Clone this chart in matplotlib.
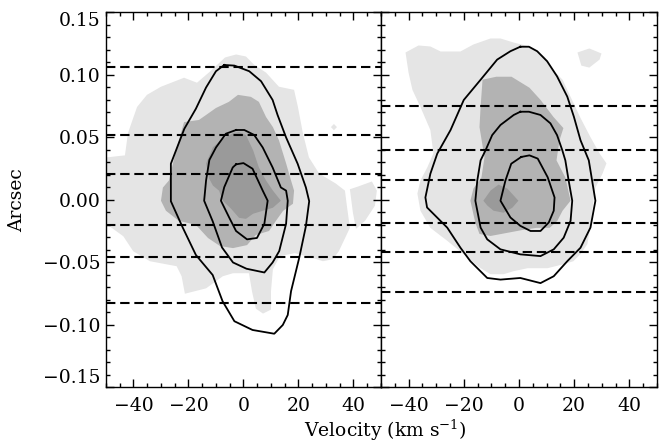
import matplotlib.pyplot as plt
from matplotlib.ticker import MultipleLocator, FuncFormatter

# 字体设置
plt.rcParams['font.family'] = ['DejaVu Serif']
plt.rcParams['mathtext.fontset'] = 'dejavuserif'
font_size = 13.5
label_size = 13.5

# 颜色
light_gray = '#e5e5e5'
mid_gray = '#b3b3b3'
dark_gray = '#9a9a9a'

# ---------------- 左图数据 (velocity km/s, arcsec) ----------------
left_light = [(-50, 0.034), (-43.1, 0.0357), (-42.0, 0.0535), (-38.7, 0.0744), (-35.1, 0.0841),
              (-30.0, 0.0906), (-21.6, 0.0978), (-16.9, 0.0938), (-12.2, 0.1027), (-6.7, 0.114),
              (-2.7, 0.1164), (0.9, 0.1148), (3.8, 0.1083), (8.2, 0.1019), (12.9, 0.0906),
              (18.4, 0.0881), (19.8, 0.0744), (21.6, 0.0535), (23.8, 0.0341), (27.5, 0.0212),
              (33.6, 0.0131), (36.9, 0.0075), (37.6, -0.0046), (38.7, -0.0223), (34.7, -0.0409),
              (32.5, -0.0474), (28.9, -0.049), (25.3, -0.0465), (18.7, -0.0425), (13.3, -0.0449),
              (10.7, -0.0554), (10.0, -0.0731), (10.0, -0.0877), (7.1, -0.0909), (4.5, -0.0869),
              (3.1, -0.0731), (2.0, -0.0586), (-3.8, -0.0586), (-7.5, -0.061), (-13.6, -0.0707),
              (-21.3, -0.075), (-22.5, -0.061), (-24.3, -0.053), (-34.0, -0.049), (-40.1, -0.041),
              (-43.7, -0.029), (-50, -0.019)]
left_light_blob = [(38.7, 0.0086), (41.6, 0.0107), (46.7, 0.0148), (48.5, 0.0075), (47.8, -0.0046),
                   (44.2, -0.0167), (40.9, -0.0231), (39.8, -0.0102)]
left_light_dot = [(32.9, 0.0608), (34.0, 0.0583), (32.9, 0.0558), (31.8, 0.0583)]
left_mid = [(-21.6, 0.0623), (-16.2, 0.064), (-13.6, 0.068), (-10.0, 0.0736), (-5.3, 0.0785),
            (-2.0, 0.0841), (2.7, 0.0825), (5.6, 0.0785), (8.2, 0.0664), (10.7, 0.0583),
            (12.9, 0.0478), (15.5, 0.0293), (17.3, 0.0156), (18.4, 0.0075), (18.0, -0.003),
            (14.4, -0.0087), (11.8, -0.0167), (9.3, -0.0248), (4.5, -0.028), (1.3, -0.0361),
            (-3.8, -0.0385), (-8.5, -0.0369), (-12.9, -0.0304), (-17.3, -0.0199), (-23.5, -0.0167),
            (-28.2, -0.0086), (-30.0, -0.0006), (-29.3, 0.0099), (-27.1, 0.0156), (-24.5, 0.0398)]
left_dark = [(-13.6, 0.0293), (-11.1, 0.0422), (-8.2, 0.0478), (-3.8, 0.0535), (-1.6, 0.0543),
             (0.9, 0.0519), (3.5, 0.0398), (5.6, 0.026), (8.2, 0.0156), (10.7, 0.0075),
             (13.6, -0.0006), (10.7, -0.0062), (7.1, -0.0086), (3.5, -0.011), (0.9, -0.0151),
             (-1.6, -0.0143), (-4.5, -0.007), (-7.5, -0.0006), (-8.9, 0.0075), (-11.1, 0.0115),
             (-12.5, 0.0172)]
left_outer = [(-7.0, 0.108), (-3.3, 0.1075), (2.1, 0.103), (6.4, 0.095), (10.6, 0.08),
              (12.4, 0.068), (15.5, 0.05), (19.7, 0.029), (22.7, 0.01), (23.9, -0.001),
              (22.7, -0.021), (20.3, -0.046), (17.3, -0.073), (16.1, -0.092), (14.3, -0.1),
              (11.2, -0.107), (3.3, -0.104), (-3.3, -0.097), (-7.6, -0.081), (-11.2, -0.06),
              (-17.3, -0.044), (-22.1, -0.022), (-26.4, -0.001), (-26.4, 0.029), (-21.5, 0.057),
              (-17.3, 0.073), (-13.6, 0.09), (-10.0, 0.103)]
left_middle = [(-2.7, 0.056), (0.3, 0.056), (3.9, 0.052), (7.0, 0.042), (10.6, 0.026),
               (13.6, 0.01), (15.5, 0.0075), (16.1, -0.0006), (15.5, -0.019), (13.0, -0.0409),
               (10.6, -0.05), (7.6, -0.058), (1.1, -0.055), (-3.8, -0.05), (-7.8, -0.038),
               (-11.2, -0.017), (-14.3, -0.0006), (-13.6, 0.0156), (-12.4, 0.032), (-10.0, 0.042),
               (-6.4, 0.053)]
left_inner = [(-2.7, 0.0285), (0.0, 0.0295), (3.3, 0.025), (7.0, 0.0075), (8.8, -0.0006),
              (7.6, -0.019), (4.9, -0.0304), (1.3, -0.0315), (-2.7, -0.0248), (-5.2, -0.014),
              (-8.2, -0.0006), (-7.0, 0.0102), (-3.9, 0.026)]
left_slits = [0.1061, 0.0519, 0.0204, -0.0197, -0.0455, -0.0823]

# ---------------- 右图数据 ----------------
right_light = [(-41.1, 0.118), (-36.4, 0.1236), (-32.1, 0.1228), (-28.4, 0.1188), (-21.2, 0.1188),
               (-16.5, 0.1244), (-10.3, 0.1292), (-6.7, 0.1292), (-2.0, 0.126), (3.8, 0.1228),
               (9.2, 0.1148), (12.9, 0.1027), (15.8, 0.0962), (18.7, 0.0825), (22.3, 0.0656),
               (25.9, 0.0503), (29.2, 0.0373), (31.7, 0.0293), (30.3, 0.0212), (27.7, 0.0099),
               (27.0, -0.0006), (25.9, -0.0207), (24.8, -0.0353), (22.3, -0.0433), (19.7, -0.049),
               (16.1, -0.0514), (10.3, -0.0546), (3.1, -0.0546), (-2.0, -0.057), (-5.6, -0.0594),
               (-10.3, -0.0594), (-13.9, -0.0546), (-20.1, -0.0433), (-25.9, -0.0328),
               (-32.1, -0.0223), (-35.7, -0.0086), (-36.8, 0.0051), (-35.7, 0.0156),
               (-33.2, 0.0261), (-31.0, 0.0373), (-32.1, 0.0559), (-35.7, 0.0744),
               (-38.6, 0.0881), (-40.0, 0.1018)]
right_light_blob = [(21.2, 0.118), (25.5, 0.1212), (29.9, 0.1172), (29.2, 0.1123), (25.5, 0.1059),
                    (22.6, 0.1075)]
right_mid = [(-13.2, 0.0962), (-8.2, 0.0986), (-2.7, 0.0986), (3.8, 0.0898), (7.8, 0.0801),
             (12.5, 0.0664), (16.1, 0.0575), (14.7, 0.0478), (13.6, 0.0317), (16.8, 0.018),
             (18.7, -0.0006), (15.8, -0.0086), (13.9, -0.0167), (11.1, -0.0223), (6.3, -0.0223),
             (1.3, -0.024), (-4.5, -0.0264), (-10.3, -0.0288), (-14.3, -0.0272), (-15.8, -0.0183),
             (-17.6, -0.0006), (-16.5, 0.0091), (-13.6, 0.018), (-12.5, 0.0341), (-14.3, 0.0583),
             (-13.9, 0.0744)]
right_dark = [(-12.9, -0.0006), (-10.3, 0.0075), (-7.4, 0.0123), (-4.2, 0.0091), (-0.2, -0.0006),
              (-2.4, -0.0062), (-5.6, -0.0102), (-9.2, -0.0086), (-11.4, -0.0046)]
right_outer = [(0.5, 0.1226), (3.6, 0.1226), (6.6, 0.119), (10.2, 0.111), (13.8, 0.0989),
               (17.5, 0.0827), (19.9, 0.0666), (22.3, 0.0478), (25.3, 0.0317), (26.5, 0.0156),
               (27.7, -0.0006), (25.9, -0.0221), (22.3, -0.0382), (17.5, -0.049), (12.6, -0.061),
               (7.8, -0.0665), (0.5, -0.0624), (-6.7, -0.0637), (-11.5, -0.0624), (-17.6, -0.049),
               (-21.2, -0.0382), (-26.0, -0.0221), (-33.3, -0.006), (-33.9, 0.002), (-32.1, 0.021),
               (-29.6, 0.0371), (-24.8, 0.0559), (-20.0, 0.08), (-13.9, 0.0962), (-7.9, 0.1123),
               (-3.1, 0.119)]
right_middle = [(0.5, 0.0706), (3.6, 0.0706), (7.8, 0.068), (11.4, 0.0613), (13.8, 0.0519),
                (15.7, 0.0398), (16.8, 0.0317), (18.0, 0.0156), (19.3, -0.0006), (18.7, -0.0167),
                (16.2, -0.0302), (12.6, -0.0395), (7.8, -0.0449), (0.5, -0.0435), (-6.7, -0.0395),
                (-11.5, -0.0315), (-13.9, -0.0221), (-15.8, -0.0006), (-15.1, 0.0156),
                (-13.9, 0.0317), (-12.1, 0.0398), (-9.7, 0.0519), (-6.7, 0.06), (-1.9, 0.068)]
right_inner = [(0.8, 0.0344), (3.8, 0.0357), (6.8, 0.0331), (10.4, 0.0182), (12.9, 0.002),
               (12.6, -0.0086), (10.8, -0.018), (7.8, -0.0248), (4.2, -0.0248), (0.5, -0.0207),
               (-3.1, -0.014), (-6.7, -0.0006), (-4.9, 0.0156), (-2.8, 0.029)]
right_slits = [0.0752, 0.0398, 0.0156, -0.0183, -0.0417, -0.074]

yticks = [-0.15, -0.10, -0.05, 0.00, 0.05, 0.10, 0.15]
xticks = [-40, -20, 0, 20, 40]


def fill_poly(ax, pts, color):
    xs = [p[0] for p in pts]
    ys = [p[1] for p in pts]
    ax.fill(xs, ys, color=color, lw=0, zorder=1)


def draw_contour(ax, pts):
    xs = [p[0] for p in pts] + [pts[0][0]]
    ys = [p[1] for p in pts] + [pts[0][1]]
    ax.plot(xs, ys, color='black', lw=1.3, zorder=3)


def style_axis(ax, show_ylabels):
    ax.set_xlim(-50, 50)
    ax.set_ylim(-0.15, 0.15)
    ax.set_xticks(xticks)
    ax.set_yticks(yticks)
    ax.xaxis.set_minor_locator(MultipleLocator(5))
    ax.yaxis.set_minor_locator(MultipleLocator(0.01))
    ax.yaxis.set_major_formatter(FuncFormatter(lambda v, p: ('%.2f' % v).replace('-', '\u2212')
                                               if abs(v) > 1e-9 else '0.00'))
    ax.tick_params(which='both', direction='in', top=True, right=True, width=1,
                   labelsize=font_size, labelleft=show_ylabels)
    ax.tick_params(which='major', length=6)
    ax.tick_params(which='minor', length=3)
    ax.tick_params(axis='x', pad=7)
    ax.tick_params(axis='y', pad=4)
    for s in ax.spines.values():
        s.set_linewidth(1.0)


fig = plt.figure(figsize=(6.59, 4.44), dpi=100)
ax1 = fig.add_axes([0.1608, 0.1273, 0.4173, 0.8446])
ax2 = fig.add_axes([0.5781, 0.1273, 0.4188, 0.8446])

panels = [
    (ax1, [left_light, left_light_blob, left_light_dot], [left_mid], [left_dark],
     [left_outer, left_middle, left_inner], left_slits, True),
    (ax2, [right_light, right_light_blob], [right_mid], [right_dark],
     [right_outer, right_middle, right_inner], right_slits, False),
]

for ax, lights, mids, darks, contours, slits, show_y in panels:
    for pts in lights:
        fill_poly(ax, pts, light_gray)
    for pts in mids:
        fill_poly(ax, pts, mid_gray)
    for pts in darks:
        fill_poly(ax, pts, dark_gray)
    for pts in contours:
        draw_contour(ax, pts)
    for y in slits:
        ax.axhline(y, color='black', lw=1.5, ls=(0, (4.5, 2.3)), zorder=4)
    style_axis(ax, show_y)

# 首尾刻度标签向内偏移
yt = ax1.yaxis.get_major_ticks()
yt[0].label1.set_va('bottom')
yt[-1].label1.set_va('top')

fig.text(17.5 / 659, 1 - 200 / 444, 'Arcsec', rotation=90, ha='center', va='center',
         fontsize=font_size)
fig.text(385 / 659, 1 - 437 / 444, r'Velocity (km s$^{-1}$)', ha='center', va='baseline',
         fontsize=label_size)

plt.savefig('out.png', dpi=100)
